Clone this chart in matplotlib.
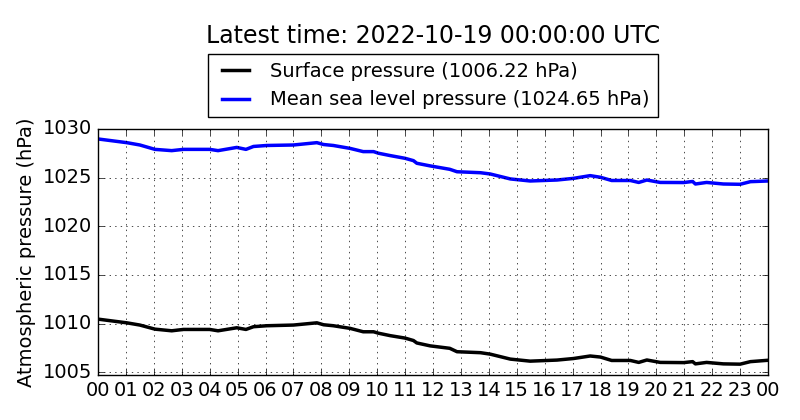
import matplotlib
matplotlib.use('Agg')
import matplotlib.pyplot as plt
import numpy as np

# hours since 2022-10-18 00:00 UTC
hours = [0.0, 1.03, 1.5, 2.04, 2.64, 3.06, 4.0, 4.3, 4.97, 5.3, 5.57, 6.05,
         7.0, 7.84, 8.08, 8.43, 9.03, 9.5, 9.87, 10.05, 10.47, 11.0, 11.3,
         11.42, 11.9, 12.6, 12.86, 13.7, 14.05, 14.77, 15.48, 16.44, 17.03,
         17.63, 18.0, 18.4, 19.07, 19.37, 19.66, 20.14, 20.98, 21.3, 21.4,
         21.8, 22.4, 23.0, 23.37, 24.0]

msl_pressure = [1028.97, 1028.59, 1028.35, 1027.90, 1027.77, 1027.90, 1027.90,
                1027.77, 1028.10, 1027.90, 1028.20, 1028.30, 1028.35, 1028.59,
                1028.40, 1028.30, 1028.00, 1027.67, 1027.67, 1027.50, 1027.26,
                1026.98, 1026.74, 1026.47, 1026.20, 1025.85, 1025.60, 1025.50,
                1025.37, 1024.86, 1024.65, 1024.75, 1024.92, 1025.20, 1025.03,
                1024.70, 1024.70, 1024.50, 1024.75, 1024.50, 1024.49, 1024.60,
                1024.34, 1024.50, 1024.34, 1024.31, 1024.58, 1024.65]

surface_pressure = [1010.45, 1010.07, 1009.84, 1009.42, 1009.25, 1009.39, 1009.39,
                    1009.25, 1009.56, 1009.39, 1009.67, 1009.77, 1009.84, 1010.07,
                    1009.87, 1009.77, 1009.50, 1009.15, 1009.15, 1009.00, 1008.75,
                    1008.50, 1008.25, 1008.00, 1007.70, 1007.45, 1007.10, 1007.00,
                    1006.85, 1006.34, 1006.13, 1006.24, 1006.40, 1006.66, 1006.55,
                    1006.20, 1006.20, 1006.00, 1006.25, 1006.00, 1005.98, 1006.08,
                    1005.85, 1006.00, 1005.85, 1005.82, 1006.08, 1006.22]

hour_ticks = list(range(25))
hour_labels = ['%02d' % (h % 24) for h in hour_ticks]
latest_time = '2022-10-19 00:00:00 UTC'

plt.style.use('classic')
plt.rcParams['figure.facecolor'] = 'white'
plt.rcParams['savefig.facecolor'] = 'white'
plt.rcParams['font.size'] = 14
plt.rcParams['axes.formatter.useoffset'] = False

fig = plt.figure(figsize=(8, 4.2), dpi=100)
ax = fig.add_axes([0.1225, 0.107, 0.8375, 0.586])

ax.plot(hours, surface_pressure, color='k', lw=2.5,
        label='Surface pressure (%.2f hPa)' % surface_pressure[-1])
ax.plot(hours, msl_pressure, color='b', lw=2.5,
        label='Mean sea level pressure (%.2f hPa)' % msl_pressure[-1])

ax.set_xlim(0, 24)
ax.set_ylim(1004.7, 1030)
ax.set_xticks(hour_ticks)
ax.set_xticklabels(hour_labels)
ax.set_yticks(np.arange(1005, 1031, 5))
ax.tick_params(labelsize=14)
ax.set_ylabel('Atmospheric pressure (hPa)', fontsize=14)
ax.grid(True)

ax.legend(loc='lower center', bbox_to_anchor=(0.5, 1.008), fontsize=14,
          frameon=True)
fig.text(0.5416, 0.915, 'Latest time: ' + latest_time, ha='center',
         va='center', fontsize=17)

fig.savefig('out.png', dpi=100)
